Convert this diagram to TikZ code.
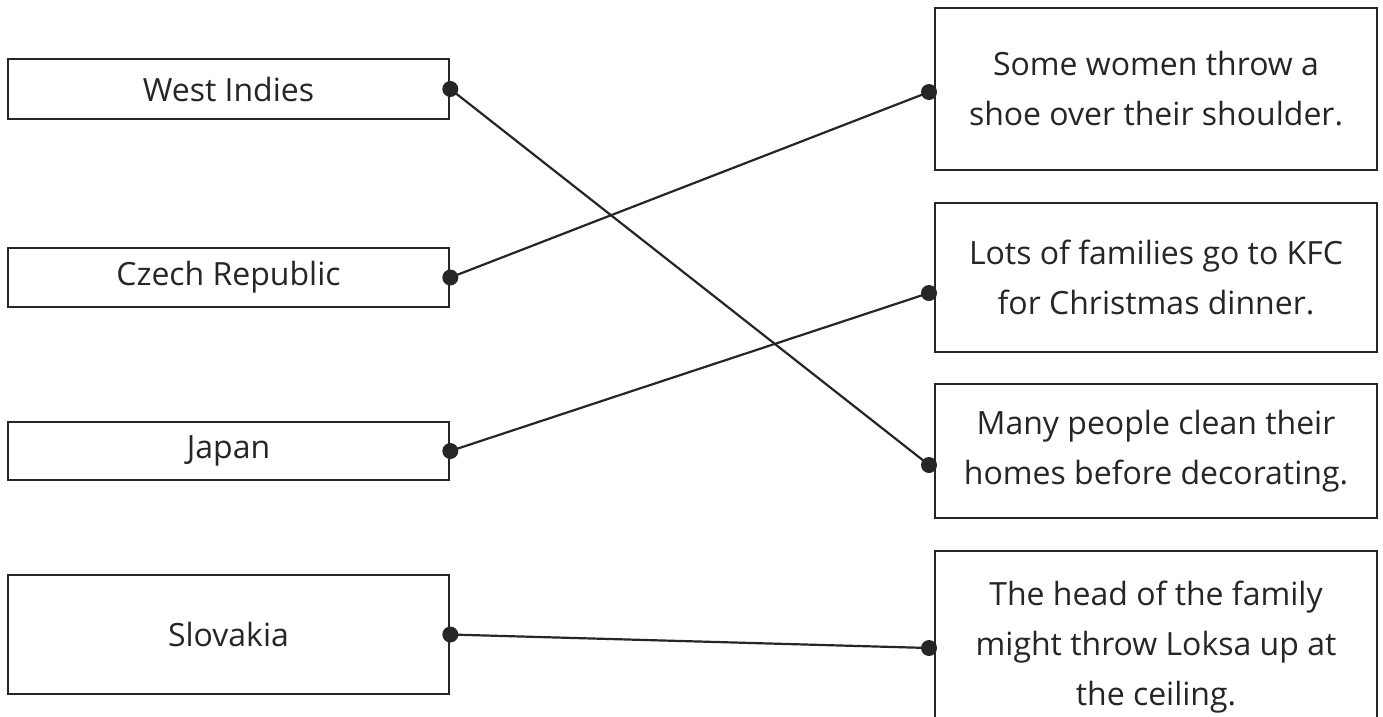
\documentclass[tikz,border=0pt]{standalone}
\usepackage{fontspec}
\setmainfont{Open Sans}
\definecolor{ink}{HTML}{262626}
\newcommand{\boxfont}{\fontsize{32pt}{50pt}\selectfont\color{ink}}
\tikzset{
  cbox/.style={draw=ink, line width=2.6pt, inner sep=0pt, align=center, font=\boxfont},
  link/.style={draw=ink, line width=2.2pt},
  dot/.style={fill=ink, circle, inner sep=0pt, minimum size=16pt}
}
\begin{document}
\begin{tikzpicture}[x=1pt,y=-1pt]
\useasboundingbox[fill=white] (0,0) rectangle (1383,716);
% left boxes
\node[cbox, minimum width=441pt, minimum height=60pt] (wi) at (228.5,89) {West Indies};
\node[cbox, minimum width=441pt, minimum height=59pt] (cz) at (228.5,277.5) {Czech Republic};
\node[cbox, minimum width=441pt, minimum height=58pt] (jp) at (228.5,451) {Japan};
\node[cbox, minimum width=441pt, minimum height=119pt] (sk) at (228.5,634.5) {Slovakia};
% right boxes
\node[cbox, minimum width=442pt, minimum height=162pt] (r1) at (1156,89) {Some women throw a\\shoe over their shoulder.};
\node[cbox, minimum width=442pt, minimum height=149pt] (r2) at (1156,277.5) {Lots of families go to KFC\\for Christmas dinner.};
\node[cbox, minimum width=442pt, minimum height=134pt] (r3) at (1156,451) {Many people clean their\\homes before decorating.};
\node[cbox, minimum width=442pt, minimum height=192pt] (r4) at (1156,647) {The head of the family\\might throw Loksa up at\\the ceiling.};
% connector ends on the right
\coordinate (e1) at (929,92);
\coordinate (e2) at (929,293);
\coordinate (e3) at (929,465);
\coordinate (e4) at (929,648);
% connectors
\draw[link] (wi.east) -- (e3);
\draw[link] (cz.east) -- (e1);
\draw[link] (jp.east) -- (e2);
\draw[link] (sk.east) -- (e4);
% dots
\foreach \p in {wi.east,cz.east,jp.east,sk.east,e1,e2,e3,e4}
  \node[dot] at (\p) {};
\end{tikzpicture}
\end{document}
